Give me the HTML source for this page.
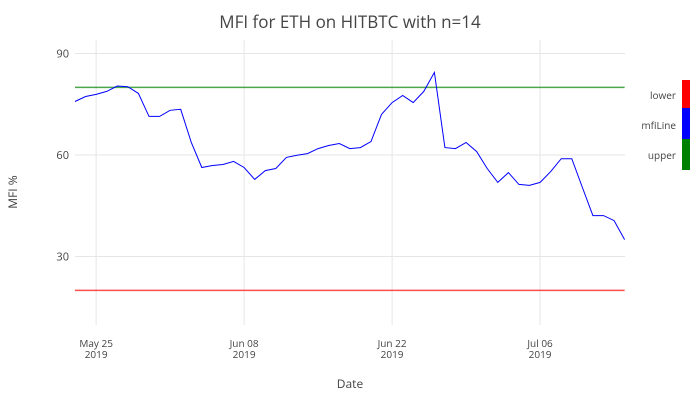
<!DOCTYPE html>
<html><head><meta charset="utf-8"><style>
body{margin:0;background:#fff;font-family:"Open Sans","Liberation Sans",sans-serif}
svg text{font-family:"Open Sans","Liberation Sans",sans-serif}
</style></head><body>
<svg id="chart" width="700" height="400" xmlns="http://www.w3.org/2000/svg">
<rect width="700" height="400" fill="#fff"/>
<text x="350" y="28" text-anchor="middle" font-size="17" fill="#444">MFI for ETH on HITBTC with n=14</text>
<g id="grid"></g>
<g id="marks"></g>
<g id="axes"></g>
<text x="350" y="388" text-anchor="middle" font-size="12" fill="#444">Date</text>
<text transform="translate(17,192) rotate(-90)" text-anchor="middle" font-size="12" fill="#444">MFI %</text>
<g>
<rect x="682" y="80" width="8" height="28" fill="#ff0000"/>
<rect x="682" y="108" width="8" height="31" fill="#0000ff"/>
<rect x="682" y="139" width="8" height="31" fill="#008000"/>
<text x="676" y="99" text-anchor="end" font-size="10" fill="#444">lower</text>
<text x="676" y="129" text-anchor="end" font-size="10" fill="#444">mfiLine</text>
<text x="676" y="159" text-anchor="end" font-size="10" fill="#444">upper</text>
</g>
</svg>
<script>
const startDate = "2019-05-23";
const mfiValues = [75.8,77.3,77.9,78.8,80.4,80.2,78.2,71.4,71.4,73.2,73.5,63.7,56.3,56.9,57.2,58.1,56.3,52.8,55.4,56.0,59.3,59.9,60.4,61.9,62.8,63.4,61.9,62.2,64.0,72.0,75.5,77.6,75.5,78.8,84.4,62.2,61.9,63.7,61.0,56.0,51.9,54.8,51.3,51.0,51.9,55.1,58.9,58.9,50.4,42.1,42.1,40.6,35.0];
const upperValue = 80;
const lowerValue = 20;
const yTicks = [30,60,90];
const xTickDays = [2,16,30,44];
const xTickLabels = ["May 25","Jun 08","Jun 22","Jul 06"];

const NS="http://www.w3.org/2000/svg";
const x0=75,x1=625,dayPx=10.57;
const xs=d=>x0+d*dayPx;
const ys=v=>155-(v-60)*(101.5/30);
function mk(tag,attrs,parent){const e=document.createElementNS(NS,tag);for(const k in attrs)e.setAttribute(k,attrs[k]);document.getElementById(parent).appendChild(e);return e;}

yTicks.forEach(t=>{
  const l=mk('line',{x1:x0,x2:x1,y1:ys(t),y2:ys(t),stroke:'#e6e6e6','stroke-width':1},'grid');
  
  
  const tx=mk('text',{x:x0-6,y:ys(t)+4,'text-anchor':'end','font-size':11,fill:'#444'},'axes');
  tx.textContent=t;
  
  
});
xTickDays.forEach((d,i)=>{
  const l=mk('line',{x1:xs(d),x2:xs(d),y1:40,y2:325,stroke:'#e6e6e6','stroke-width':1},'grid');
  
  
  const tx=mk('text',{x:xs(d),y:347,'text-anchor':'middle','font-size':10,fill:'#444'},'axes');
  tx.textContent=xTickLabels[i];
  
  
  const ty=mk('text',{x:xs(d),y:358,'text-anchor':'middle','font-size':10,fill:'#444'},'axes');
  ty.textContent="2019";
  
  
});
const n=mfiValues.length;
const up=mk('line',{x1:x0,x2:xs(n-1),y1:ys(upperValue),y2:ys(upperValue),stroke:'#008000','stroke-width':1.5,'stroke-opacity':0.7},'marks');


const lo=mk('line',{x1:x0,x2:xs(n-1),y1:ys(lowerValue),y2:ys(lowerValue),stroke:'#ff0000','stroke-width':1.5,'stroke-opacity':0.7},'marks');


const pts=mfiValues.map((v,i)=>xs(i).toFixed(1)+','+ys(v).toFixed(1)).join(' ');
const pl=mk('polyline',{points:pts,fill:'none',stroke:'#0000ff','stroke-width':1},'marks');


</script>
</body></html>
